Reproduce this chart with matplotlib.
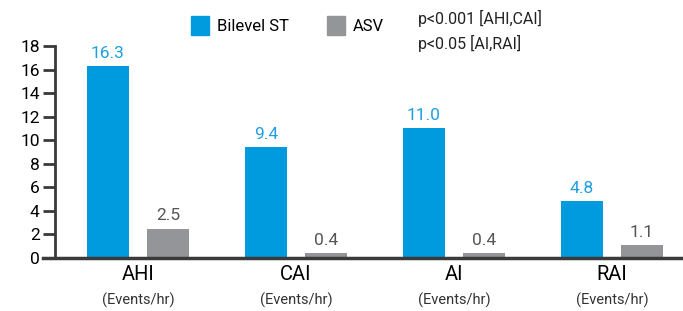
import numpy as np
import matplotlib
matplotlib.use('Agg')
import matplotlib.pyplot as plt
from matplotlib.patches import Patch
from matplotlib.transforms import blended_transform_factory

plt.rcParams['font.family'] = ['Roboto', 'DejaVu Sans']

# Data
categories = ['AHI', 'CAI', 'AI', 'RAI']
bilevel = [16.3, 9.4, 11.0, 4.8]
asv = [2.5, 0.4, 0.4, 1.1]
yticks = [0, 2, 4, 6, 8, 10, 12, 14, 16, 18]

blue = '#009ade'
gray = '#939598'
axis_col = '#3a3a3a'

fig = plt.figure(figsize=(6.83, 3.11), dpi=100)
ax = fig.add_axes([55 / 683, 53 / 311, 1 - 55 / 683, 212 / 311])

x = np.arange(len(categories))
w = 0.27
off = 0.19
ax.bar(x - off, bilevel, w, color=blue)
ax.bar(x + off, asv, w, color=gray)

for xi, v in zip(x, bilevel):
    ax.text(xi - off, v + 0.45, f'{v:.1f}', ha='center', va='bottom', fontsize=12.5, color='#1f9fe0')
for xi, v in zip(x, asv):
    ax.text(xi + off, v + 0.45, f'{v:.1f}', ha='center', va='bottom', fontsize=12.5, color='#555555')

ax.set_xlim(-0.525, 3.45)
ax.set_ylim(0, 18)
ax.set_yticks(yticks)
ax.tick_params(axis='y', direction='out', length=9, width=2, color=axis_col, labelsize=12.5, pad=2)
ax.set_xticks(x)
ax.set_xticklabels(categories, fontsize=14.5)
ax.tick_params(axis='x', length=0, pad=5)

trans = blended_transform_factory(ax.transData, ax.transAxes)
for xi in x:
    ax.text(xi, -0.165, '(Events/hr)', transform=trans, ha='center', va='top', fontsize=10.5, color='#333333')

for s in ['top', 'right']:
    ax.spines[s].set_visible(False)
ax.spines['left'].set_color(axis_col)
ax.spines['left'].set_linewidth(2)
ax.spines['bottom'].set_color(axis_col)
ax.spines['bottom'].set_linewidth(2.5)
ax.spines['bottom'].set_bounds(-0.525 - 12 / 158, 3.45)
ax.spines['bottom'].set_clip_on(False)

handles = [Patch(color=blue, label='Bilevel ST'), Patch(color=gray, label='ASV')]
fig.legend(handles=handles, loc='upper left', bbox_to_anchor=(176 / 683, 1 - 1 / 311), ncol=2,
           frameon=False, fontsize=12, handlelength=1.1, handleheight=1.4,
           handletextpad=0.45, columnspacing=2.3)
fig.text(418 / 683, 1 - 10 / 311, 'p<0.001 [AHI,CAI]\np<0.05 [AI,RAI]', ha='left', va='top',
         fontsize=11.5, color='#222222', linespacing=1.55)

fig.savefig('out.png', dpi=100)
